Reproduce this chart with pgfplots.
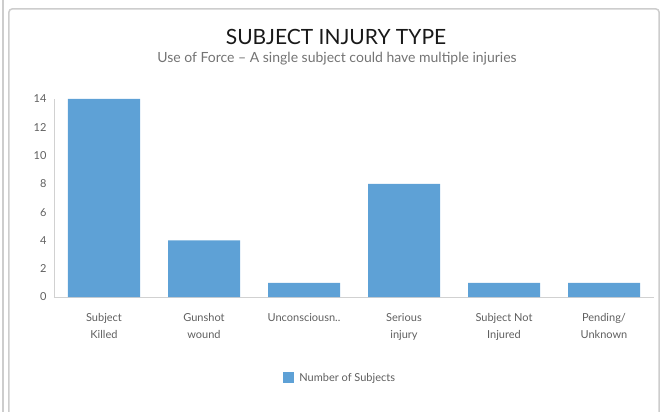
\documentclass[border=0pt]{standalone}
\usepackage{fontspec}
\setmainfont{Lato}
\usepackage{pgfplots}
\pgfplotsset{compat=1.18}
\definecolor{barblue}{RGB}{94,161,214}
\definecolor{txtgray}{RGB}{95,95,95}
\definecolor{framegray}{RGB}{205,205,205}

\begin{document}
\begin{tikzpicture}
\begin{axis}[
  name=ax,
  scale only axis, width=600pt, height=198pt,
  xmin=-0.5, xmax=5.5, ymin=0, ymax=14,
  ybar, bar width=72pt,
  axis lines*=left,
  axis line style={draw=black!18, line width=0.6pt},
  x axis line style={-}, y axis line style={-},
  xtick={0,1,2,3,4,5},
  xticklabels={{Subject\\Killed},{Gunshot\\wound},{Unconsciousn..},{Serious\\injury},{Subject Not\\Injured},{Pending/\\Unknown}},
  xticklabel style={align=center, font=\fontsize{11}{17}\selectfont, text=txtgray, anchor=north, yshift=-13pt},
  ytick={0,2,...,14},
  yticklabel style={font=\fontsize{11}{13}\selectfont, text=txtgray, xshift=-4pt},
  major tick length=0pt,
  /pgf/number format/assume math mode=true,
  legend style={at={(0.477,-0.41)}, anchor=center, draw=none,
    font=\fontsize{11}{13}\selectfont, text=txtgray},
  legend image code/.code={\fill[barblue] (0pt,-5pt) rectangle (11pt,6pt);},
]
\addplot[fill=barblue, draw=none] coordinates {(0,14) (1,4) (2,1) (3,8) (4,1) (5,1)};
\addlegendentry{\hspace{3pt}Number of Subjects}
\end{axis}
% page frame measured from the axis corner (54px from left, 115px from bottom)
\begin{scope}[shift={(ax.south west)}, xshift=-54pt, yshift=-115pt, x=1pt, y=1pt]
\path[use as bounding box] (0,0) rectangle (664,412);
\draw[framegray, line width=1.5pt] (3,0) -- (3,412);
\draw[framegray, line width=1.5pt, rounded corners=3pt] (9,-5) -- (9,403) -- (659,403) -- (659,-5);
\node[font=\fontsize{21}{24}\selectfont, text=black!90] at (336,375) {SUBJECT INJURY TYPE};
\node[font=\fontsize{14}{16}\selectfont, text=black!55] at (337,353) {Use of Force -- A single subject could have multiple injuries};
\end{scope}
\end{tikzpicture}
\end{document}
